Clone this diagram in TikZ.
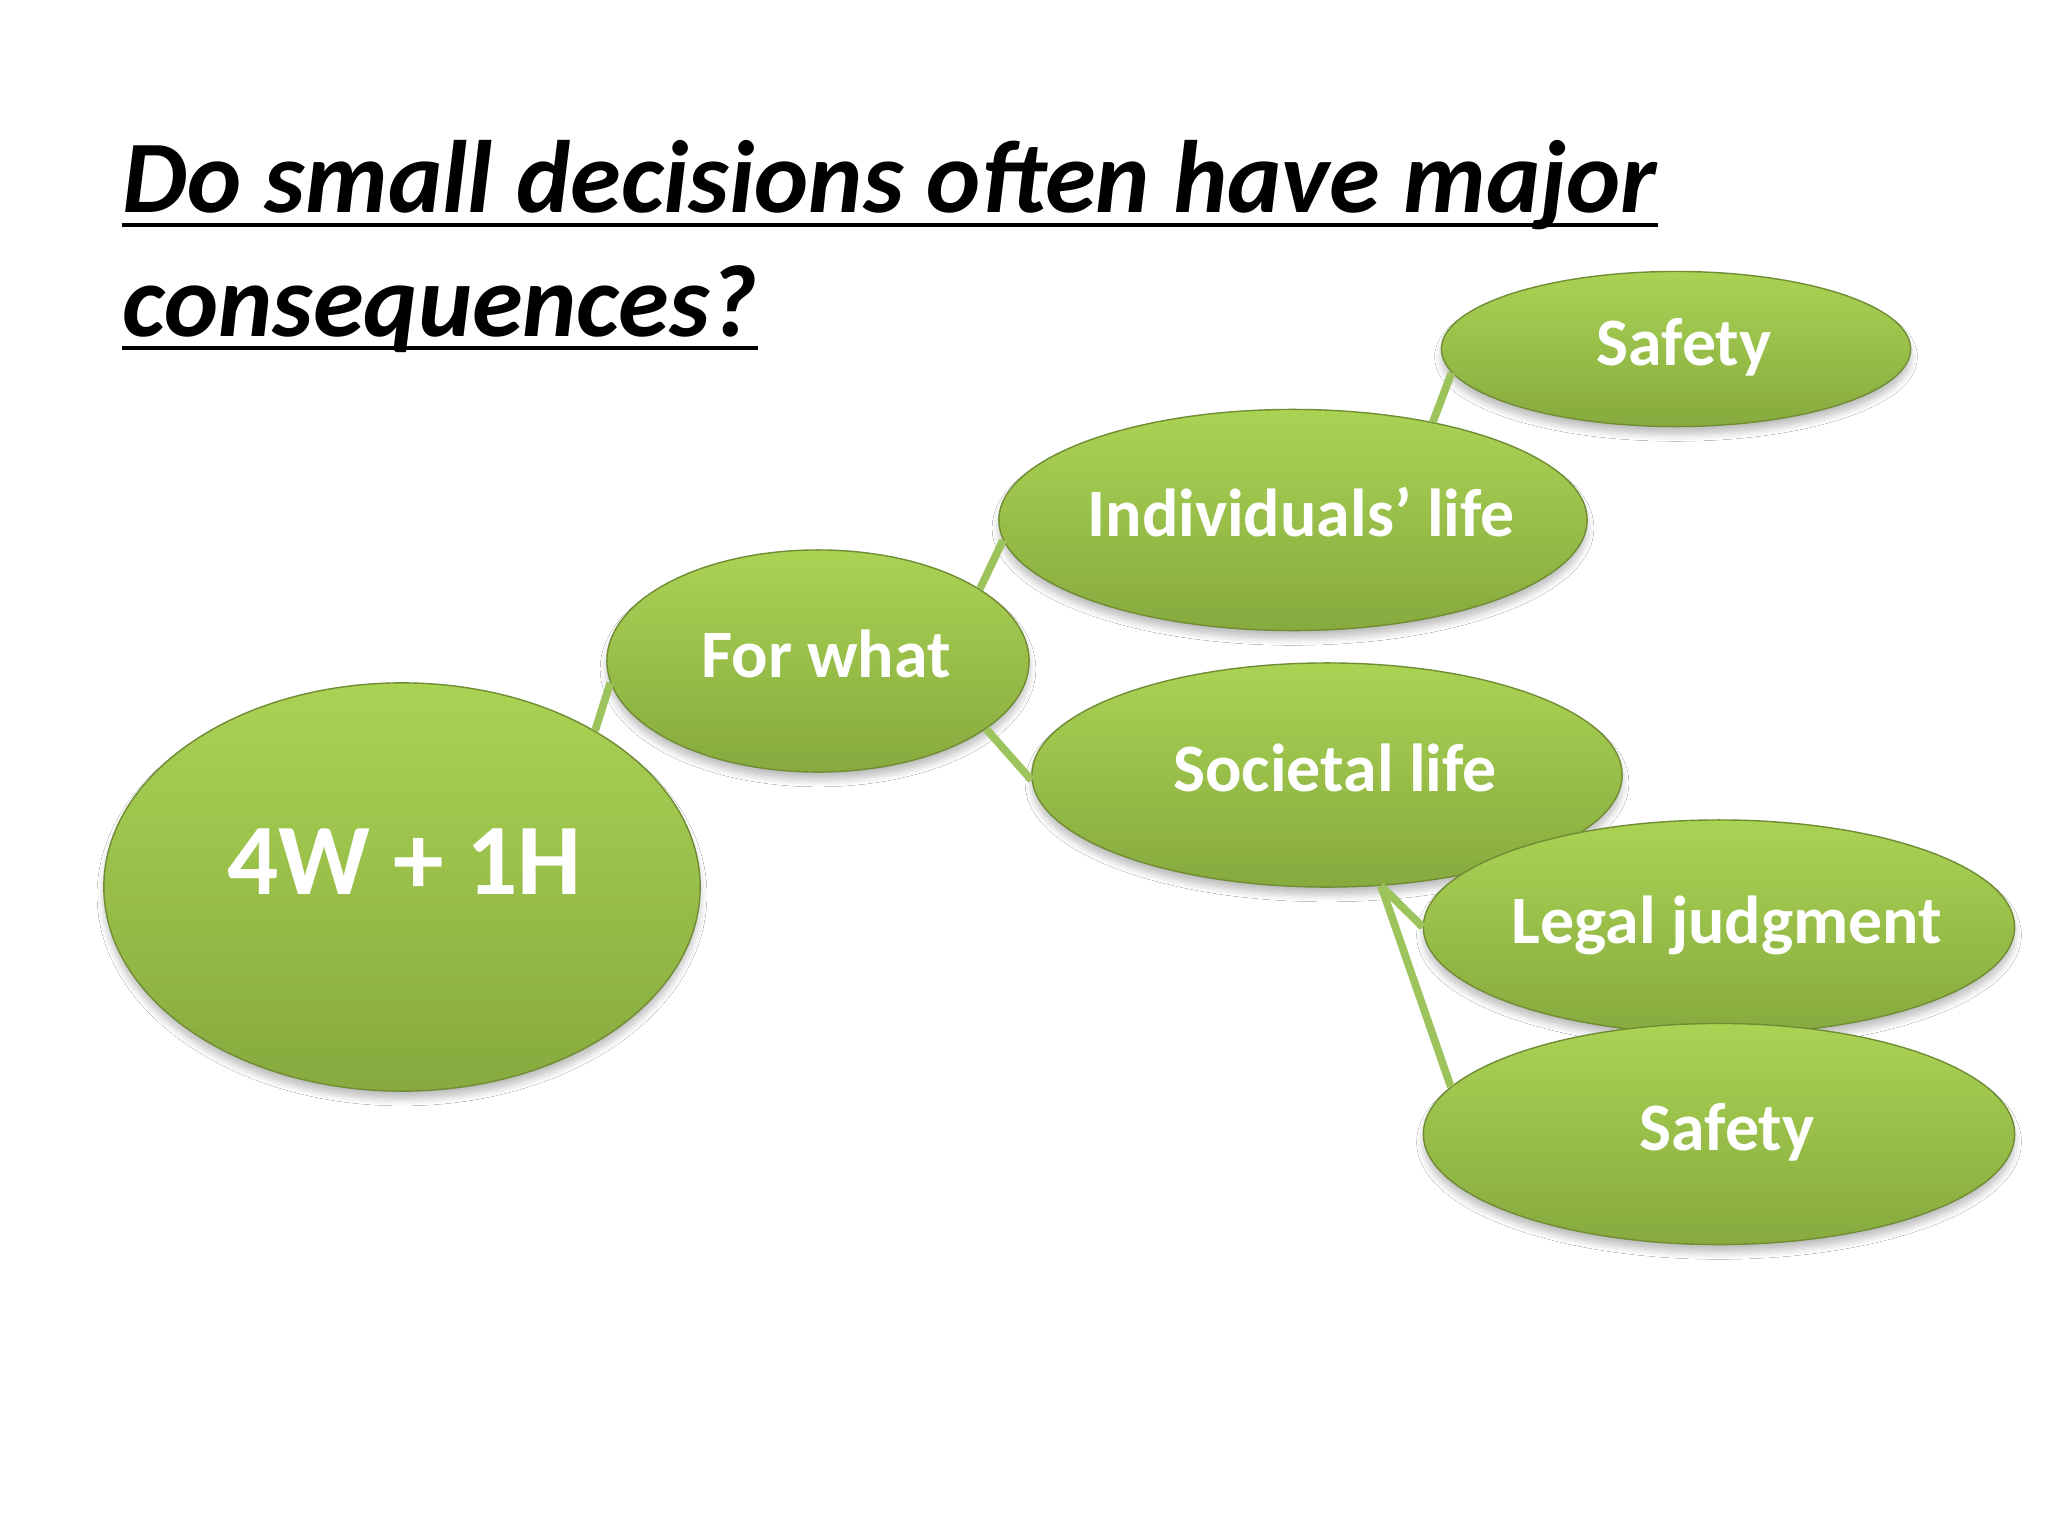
\documentclass[tikz,border=0pt]{standalone}
\usepackage{fontspec}
\setmainfont{Carlito}
\usetikzlibrary{shapes.geometric,shadows.blur}
\definecolor{gtop}{RGB}{170,211,84}
\definecolor{gbot}{RGB}{134,170,62}
\definecolor{gedge}{RGB}{112,140,52}
\definecolor{gline}{RGB}{156,195,92}
\newcommand{\lbl}[1]{\makebox[0pt]{\hspace{0.16cm}#1}}
\tikzset{
  bubble/.style={ellipse, inner sep=0pt, top color=gtop, bottom color=gbot,
    draw=gedge, line width=0.4pt, text=white,
    font=\bfseries\fontsize{19.3}{22}\selectfont,
    text height=12.5pt, text depth=3.4pt,
    blur shadow={shadow xshift=0pt, shadow yshift=-0.08cm, shadow blur steps=6, shadow opacity=25}},
  link/.style={draw=gline, line width=2.2pt},
  titletext/.style={inner sep=0pt, anchor=base west, font=\bfseries\itshape\fontsize{29.25}{34}\selectfont},
  uline/.style={line width=0.04cm}
}
\begin{document}
\begin{tikzpicture}[x=0.01cm, y=-0.01cm]
\fill[white] (0,0) rectangle (2048,1536);
\useasboundingbox (0,0) rectangle (2048,1536);

\node[titletext] (t1) at (122,212) {Do small decisions often have major};
\node[titletext] (t2) at (122,336) {consequences?};
\draw[uline] ([yshift=-0.13cm]t1.base west) -- ([yshift=-0.13cm]t1.base east);
\draw[uline] ([yshift=-0.12cm]t2.base west) -- ([yshift=-0.12cm]t2.base east);

\node[bubble, minimum width=5.96cm, minimum height=4.08cm,
      font=\bfseries\fontsize{28.8}{34}\selectfont, text height=18.5pt, text depth=14.2pt]
      (root) at (402,887) {\makebox[0pt]{\hspace{0.05cm}4W + 1H}};
\node[bubble, minimum width=4.22cm, minimum height=2.22cm] (what) at (818,661) {\lbl{For what}};
\node[bubble, minimum width=5.88cm, minimum height=2.21cm] (indiv) at (1293,520) {\lbl{Individuals’ life}};
\node[bubble, minimum width=4.69cm, minimum height=1.55cm] (safe1) at (1676,349) {\lbl{Safety}};
\node[bubble, minimum width=5.90cm, minimum height=2.24cm] (soc) at (1327,775) {\lbl{Societal life}};
\node[bubble, minimum width=5.91cm, minimum height=2.14cm] (legal) at (1719,927) {\lbl{Legal judgment}};
\node[bubble, minimum width=5.91cm, minimum height=2.21cm] (safe2) at (1719,1134) {\lbl{Safety}};

\draw[link] (root.39) -- (what.186);
\draw[link] (what.24) -- (indiv.184);
\draw[link] (what.-22) -- (soc.181);
\draw[link] (indiv.35) -- (safe1.186);
\draw[link] (soc.-64) -- (legal.180);
\draw[link] (soc.-64) -- (safe2.170);
\end{tikzpicture}
\end{document}
